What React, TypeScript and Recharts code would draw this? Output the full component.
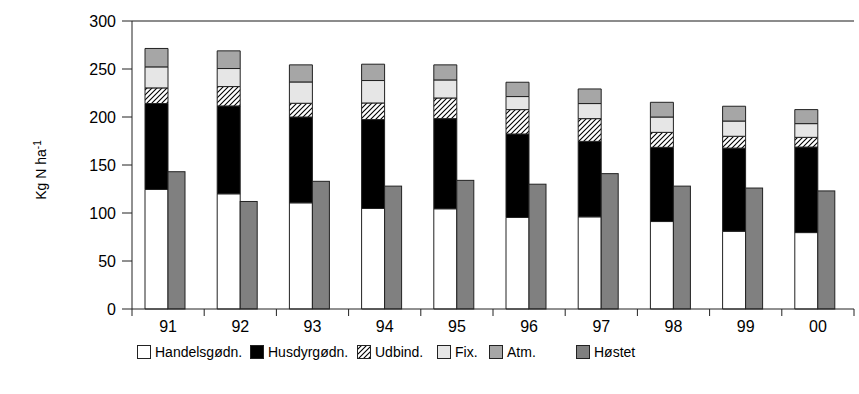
import { BarChart, Bar, XAxis, YAxis, ReferenceLine } from 'recharts';

const years = ['91', '92', '93', '94', '95', '96', '97', '98', '99', '00'];
const handelsgodn = [124.5, 120, 110.6, 104.7, 104.4, 95.3, 96, 91.1, 81, 79.6];
const husdyrgodn = [89.5, 91.5, 89.4, 92.6, 93.9, 87, 78.6, 77.3, 86.6, 89.1];
const udbind = [16.3, 20.2, 14.3, 17.3, 21.5, 25.4, 23.7, 15.6, 12.3, 10.1];
const fix = [21.9, 18.8, 22.2, 23.4, 18.8, 13.6, 15.7, 16, 15.9, 14.3];
const atm = [19.2, 18.4, 17.8, 17, 15.7, 14.9, 15.2, 15.3, 15.4, 14.6];
const hostet = [143, 112, 133, 128, 134, 130, 141, 128, 126, 123];
const yTicks = [0, 50, 100, 150, 200, 250, 300];

const data = years.map((year, i) => ({
  year,
  handelsgodn: handelsgodn[i],
  husdyrgodn: husdyrgodn[i],
  udbind: udbind[i],
  fix: fix[i],
  atm: atm[i],
  hostet: hostet[i]
}));

const FONT = '"Liberation Sans", Arial, sans-serif';
const W = 859;
const H = 394;
const MARGIN = { top: 21, right: 5, bottom: 55, left: 72 };
const Y_AXIS_W = 60;
const X_TICK = 7;
const X_TICK_MARGIN = 5;
const BAND = (W - MARGIN.left - Y_AXIS_W - MARGIN.right) / years.length;

const legendItems = [
  { label: 'Handelsgødn.', fill: '#ffffff', left: 137 },
  { label: 'Husdyrgødn.', fill: '#000000', left: 250 },
  { label: 'Udbind.', fill: 'url(#hatch)', left: 357 },
  { label: 'Fix.', fill: '#e6e6e6', left: 437 },
  { label: 'Atm.', fill: '#a6a6a6', left: 489 },
  { label: 'Høstet', fill: '#808080', left: 576 }
];

// year label centred in its band, tick marks on the band edges
const CategoryTick = (props: any) => {
  const { x, y, payload, index } = props;
  const top = y - X_TICK - X_TICK_MARGIN;
  const left = x - BAND / 2;
  return (
    <g>
      <line x1={left} x2={left} y1={top} y2={top + X_TICK} stroke="#222" />
      {index === years.length - 1 && (
        <line x1={left + BAND} x2={left + BAND} y1={top} y2={top + X_TICK} stroke="#222" />
      )}
      <text x={x} y={y} dy="0.71em" textAnchor="middle" fill="#000" fontSize={16} fontFamily={FONT}>
        {payload.value}
      </text>
    </g>
  );
};

const YLabel = () => (
  <text
    x={0}
    y={0}
    transform="translate(46, 170) rotate(-90)"
    textAnchor="middle"
    fill="#000"
    fontSize={14}
    fontFamily={FONT}
  >
    Kg N ha
    <tspan fontSize={10} dy={-5}>-1</tspan>
  </text>
);

const HostetShape = (props: any) => (
  <rect x={props.x} y={props.y} width={17} height={props.height} fill="#808080" stroke="#222" />
);

const Swatch = ({ fill }: { fill: string }) => (
  <svg width={14} height={14} style={{ display: 'block' }}>
    <defs>
      <pattern id="hatch-legend" patternUnits="userSpaceOnUse" width={5} height={5}>
        <rect width={5} height={5} fill="#fff" />
        <path d="M-1,6 L6,-1 M-1,1 L1,-1 M4,6 L6,4" stroke="#000" strokeWidth={1.1} />
      </pattern>
    </defs>
    <rect
      x={0.5}
      y={0.5}
      width={13}
      height={13}
      fill={fill === 'url(#hatch)' ? 'url(#hatch-legend)' : fill}
      stroke="#222"
    />
  </svg>
);

export default function App() {
  return (
    <div style={{ position: 'absolute', left: 0, top: 0, width: W, height: H, fontFamily: FONT }}>
      <BarChart width={W} height={H} data={data} margin={MARGIN} barGap={0} barSize={23}>
        <defs>
          <pattern id="hatch" patternUnits="userSpaceOnUse" width={5} height={5}>
            <rect width={5} height={5} fill="#fff" />
            <path d="M-1,6 L6,-1 M-1,1 L1,-1 M4,6 L6,4" stroke="#000" strokeWidth={1.1} />
          </pattern>
        </defs>
        <XAxis
          dataKey="year"
          interval={0}
          height={30}
          tickLine={false}
          tickSize={X_TICK}
          tickMargin={X_TICK_MARGIN}
          axisLine={{ stroke: '#222' }}
          tick={<CategoryTick />}
        />
        <YAxis
          width={Y_AXIS_W}
          domain={[0, 300]}
          ticks={yTicks}
          tickSize={10}
          tickMargin={6}
          axisLine={{ stroke: '#222' }}
          tickLine={{ stroke: '#222' }}
          tick={{ fill: '#000', fontSize: 16, fontFamily: FONT }}
          label={<YLabel />}
        />
        <ReferenceLine y={300} stroke="#666" strokeWidth={1.5} />
        <Bar dataKey="handelsgodn" stackId="n" fill="#ffffff" stroke="#222" isAnimationActive={false} />
        <Bar dataKey="husdyrgodn" stackId="n" fill="#000000" stroke="#222" isAnimationActive={false} />
        <Bar dataKey="udbind" stackId="n" fill="url(#hatch)" stroke="#222" isAnimationActive={false} />
        <Bar dataKey="fix" stackId="n" fill="#e6e6e6" stroke="#222" isAnimationActive={false} />
        <Bar dataKey="atm" stackId="n" fill="#a6a6a6" stroke="#222" isAnimationActive={false} />
        <Bar dataKey="hostet" fill="#808080" shape={<HostetShape />} isAnimationActive={false} />
      </BarChart>
      {legendItems.map((item) => (
        <div
          key={item.label}
          style={{
            position: 'absolute',
            left: item.left,
            top: 344,
            display: 'flex',
            alignItems: 'center',
            gap: 4,
            fontSize: 14,
            color: '#000',
            whiteSpace: 'nowrap'
          }}
        >
          <Swatch fill={item.fill} />
          <span>{item.label}</span>
        </div>
      ))}
    </div>
  );
}
